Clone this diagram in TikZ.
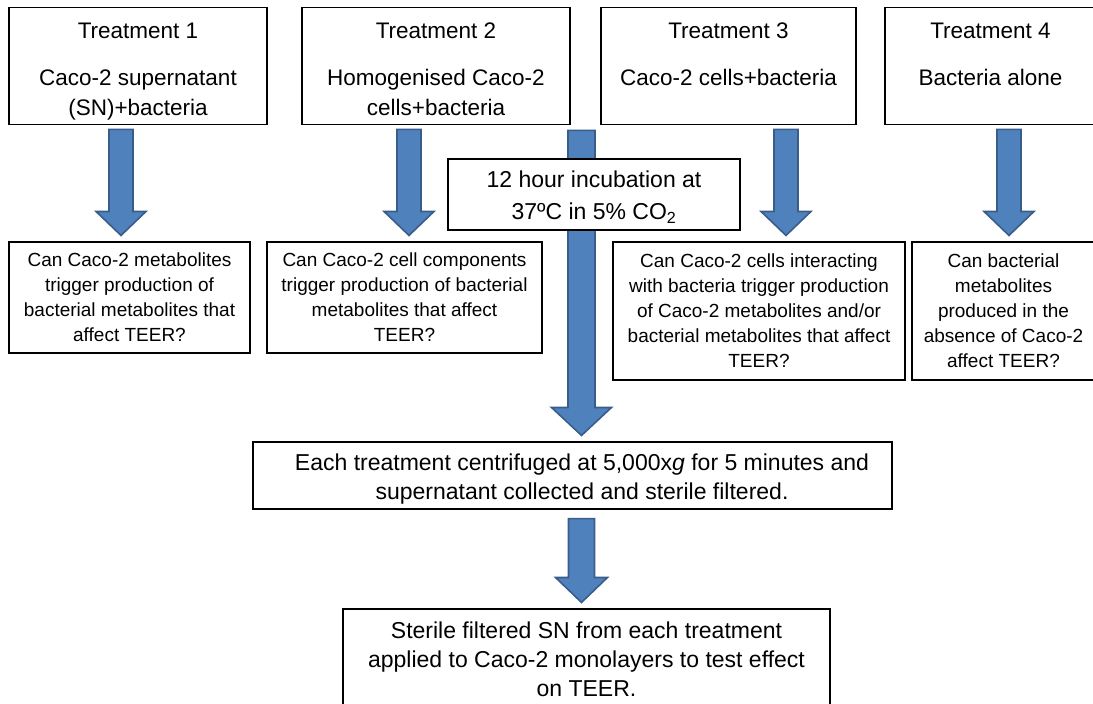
\documentclass[tikz,border=0pt]{standalone}
\usepackage{fontspec}
\setmainfont{Liberation Sans}
\usetikzlibrary{calc}

\definecolor{arrowfill}{HTML}{4F81BD}
\definecolor{arrowedge}{HTML}{385D8A}

\newcommand{\lift}[1]{\rule{0pt}{#1}}

\tikzset{
  panel/.style={draw=black, line width=1.1pt, fill=white, align=center, inner sep=0pt},
  treatbox/.style={panel, font=\fontsize{22.5}{30}\selectfont, minimum height=116pt},
  quesbox/.style={panel, font=\fontsize{19}{25}\selectfont},
  stepbox/.style={panel, font=\fontsize{23}{29}\selectfont},
  blockarrow/.style n args={4}{draw=arrowedge, fill=arrowfill, line width=1.6pt, line join=miter,
    to path={let \p1=(\tikztostart), \p2=(\tikztotarget) in
      ({\x1-#1},{\y1-#4}) -- ({\x1+#1},{\y1-#4}) -- ({\x1+#1},{\y2+6pt+#3})
      -- ({\x1+#2},{\y2+6pt+#3}) -- ({\x1},{\y2+6pt}) -- ({\x1-#2},{\y2+6pt+#3})
      -- ({\x1-#1},{\y2+6pt+#3}) -- cycle}}
}

\begin{document}
\begin{tikzpicture}[x=1pt,y=-1pt]
  \useasboundingbox (0,0) rectangle (1093,704);

  \node[treatbox, minimum width=258pt] (t1) at (138,66) {\lift{31.6pt}Treatment 1\\[17pt]Caco-2 supernatant\\(SN)+bacteria\strut};
  \node[treatbox, minimum width=268pt] (t2) at (436,66) {\lift{31.6pt}Treatment 2\\[17pt]Homogenised Caco-2\\cells+bacteria\strut};
  \node[treatbox, minimum width=255pt] (t3) at (728.5,66) {\lift{31.6pt}Treatment 3\\[17pt]Caco-2 cells+bacteria\\\strut};
  \node[treatbox, minimum width=211pt] (t4) at (990.5,66) {\lift{31.6pt}Treatment 4\\[17pt]Bacteria alone\\\strut};

  \node[quesbox, minimum width=241pt, minimum height=111pt] (q1) at (129.5,297.5)
    {Can Caco-2 metabolites\\trigger production of\\bacterial metabolites that\\affect TEER?};
  \node[quesbox, minimum width=275pt, minimum height=111pt] (q2) at (404.5,297.5)
    {Can Caco-2 cell components\\trigger production of bacterial\\metabolites that affect\\TEER?};
  \node[quesbox, minimum width=292pt, minimum height=138pt] (q3) at (759,311)
    {Can Caco-2 cells interacting\\with bacteria trigger production\\of Caco-2 metabolites and/or\\bacterial metabolites that affect\\TEER?};
  \node[quesbox, minimum width=183pt, minimum height=138pt] (q4) at (1003.5,311)
    {Can bacterial\\metabolites\\produced in the\\absence of Caco-2\\affect TEER?};

  \node[stepbox, minimum width=639pt, minimum height=67pt] (spin) at (572.5,475.5)
    {\hspace*{19pt}\lift{24.5pt}Each treatment centrifuged at 5,000x\textit{g} for 5 minutes and\\\hspace*{19pt}supernatant collected and sterile filtered.};
  \node[stepbox, minimum width=487pt, minimum height=100pt] (teer) at (586.5,659)
    {Sterile filtered SN from each treatment\\applied to Caco-2 monolayers to test effect\\on TEER.};

  \coordinate (c1) at (121,0);
  \coordinate (c2) at (409,0);
  \coordinate (c3) at (786,0);
  \coordinate (c4) at (1009,0);
  \coordinate (c5) at (581.5,0);

  \draw[blockarrow={12pt}{25pt}{24pt}{4pt}] (t1.south -| c1) to (q1.north -| c1);
  \draw[blockarrow={12pt}{25pt}{24pt}{4pt}] (t2.south -| c2) to (q2.north -| c2);
  \draw[blockarrow={12pt}{25pt}{24pt}{4pt}] (t3.south -| c3) to (q3.north -| c3);
  \draw[blockarrow={12pt}{25pt}{24pt}{4pt}] (t4.south -| c4) to (q4.north -| c4);
  \draw[blockarrow={13.5pt}{30pt}{28pt}{5pt}] (t2.south -| c5) to (spin.north -| c5);
  \draw[blockarrow={13pt}{26pt}{25pt}{9pt}] (spin.south -| c5) to (teer.north -| c5);

  \node[stepbox, font=\fontsize{23}{32}\selectfont, minimum width=292pt, minimum height=71pt] (incub) at (594,194.5)
    {\lift{22.3pt}12 hour incubation at\\37ºC in 5\% CO\textsubscript{2}};
\end{tikzpicture}
\end{document}
